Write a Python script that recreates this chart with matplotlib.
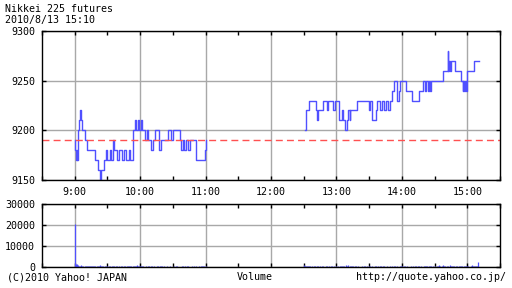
import numpy as np
import matplotlib.pyplot as plt
from matplotlib.ticker import MultipleLocator, FixedLocator

# price change points, minutes after 9:00 (step series)
am_min = [0.0, 0.6, 1.2, 1.8, 2.4, 3.0, 4.0, 4.8, 5.8, 6.8, 9.6, 11.7, 18.8, 21.0, 23.0,
          24.0, 26.9, 28.5, 29.3, 32.0, 33.0, 35.2, 36.1, 39.2, 40.7, 43.8, 45.4, 46.9,
          50.0, 51.0, 53.5, 55.6, 56.6, 57.7, 59.2, 60.7, 62.0, 64.4, 66.5, 67.5, 69.8,
          71.4, 73.9, 77.6, 79.1, 85.3, 88.4, 89.9, 96.1, 97.6, 99.0, 100.5, 102.0,
          103.5, 105.4, 111.6, 119.3, 120.0, 120.5]
am_px = [9190, 9180, 9170, 9180, 9170, 9200, 9210, 9220, 9210, 9200, 9190, 9180, 9170, 9160, 9150,
         9160, 9170, 9180, 9170, 9180, 9170, 9190, 9180, 9170, 9180, 9170, 9180, 9170,
         9180, 9170, 9200, 9210, 9200, 9210, 9200, 9210, 9200, 9190, 9200, 9190, 9180,
         9190, 9200, 9180, 9190, 9200, 9190, 9200, 9190, 9180, 9190, 9180, 9190,
         9180, 9190, 9170, 9180, 9190, 9190]

# afternoon, minutes after 13:00
pm_min = [-28.6, -28.0, -25.3, -18.6, -17.5, -16.5, -12.2, -8.5, -7.5, -3.0, -1.5, 2.1, 5.2,
          6.2, 8.2, 9.5, 10.7, 12.0, 12.8, 18.9, 29.6, 31.1, 32.6, 36.6, 37.5, 39.6, 41.8,
          43.9, 45.7, 46.9, 49.4, 50.9, 53.1, 55.5, 57.6, 58.5, 63.7, 69.2, 73.2, 75.6,
          79.3, 80.8, 82.3, 83.8, 85.0, 85.6, 86.9, 97.6, 102.1, 102.7, 103.2, 104.0,
          105.2, 108.3, 114.4, 115.9, 116.5, 117.2, 118.0, 118.8, 119.6, 126.0, 130.6]
pm_px = [9200, 9220, 9230, 9220, 9210, 9220, 9230, 9220, 9230, 9220, 9230, 9210, 9220,
         9210, 9200, 9210, 9220, 9210, 9220, 9230, 9220, 9230, 9210, 9220, 9230, 9220, 9230,
         9220, 9230, 9220, 9230, 9240, 9250, 9230, 9240, 9250, 9240, 9230, 9230, 9240,
         9250, 9240, 9250, 9240, 9250, 9240, 9250, 9260, 9280, 9260, 9270, 9260,
         9270, 9260, 9250, 9240, 9250, 9240, 9250, 9240, 9260, 9270, 9270]

prev_close = 9190

# volume per minute, 9:00-11:00 and 12:30-15:10
am_vol = [20500, 1400, 1200, 900, 700, 500, 800, 600, 400, 500, 300, 600, 400, 700, 300, 500, 400, 300, 600, 400,
          500, 300, 400, 800, 600, 400, 300, 200, 500, 400, 300, 600, 300, 200, 400, 500, 300, 200, 300, 400,
          200, 300, 500, 300, 200, 400, 300, 200, 300, 500, 400, 300, 600, 700, 500, 400, 300, 800, 500, 400,
          600, 300, 400, 300, 200, 300, 200, 400, 300, 200, 300, 500, 200, 300, 200, 300, 400, 200, 300, 500,
          300, 200, 300, 200, 100, 300, 200, 300, 200, 100, 200, 300, 200, 400, 300, 200, 100, 200, 600, 300,
          200, 300, 200, 400, 300, 200, 100, 200, 300, 500, 200, 300, 200, 100, 300, 200, 300, 400, 500, 300, 700]
pm_vol = [900, 700, 500, 300, 400, 600, 300, 200, 400, 300, 500, 200, 300, 400, 200, 300, 200, 400, 300, 200,
          300, 500, 200, 300, 200, 400, 300, 200, 300, 200, 400, 300, 200, 500, 300, 400, 600, 300, 200, 800,
          600, 900, 500, 300, 400, 300, 200, 400, 300, 200, 300, 200, 100, 300, 200, 400, 300, 200, 300, 200,
          300, 400, 200, 300, 200, 500, 300, 200, 300, 200, 400, 300, 200, 300, 500, 200, 300, 200, 100, 300,
          200, 300, 200, 400, 300, 200, 300, 200, 300, 500, 300, 200, 300, 400, 200, 300, 200, 100, 300, 200,
          300, 200, 400, 300, 200, 300, 500, 200, 300, 200, 400, 300, 600, 300, 200, 300, 400, 300, 200, 500,
          300, 200, 400, 300, 800, 300, 200, 500, 900, 400, 300, 600, 300, 200, 800, 400, 300, 500, 300, 200,
          700, 300, 400, 300, 600, 300, 200, 500, 400, 300, 600, 300, 200, 400, 800, 600, 300, 400, 700, 300,
          2500]

hour_labels = ['9:00', '10:00', '11:00', '12:00', '13:00', '14:00', '15:00']

BLUE = '#5050ff'
GRID = '#a8a8a8'
FONT = 'DejaVu Sans Mono'
FS = 7.2

plt.rcParams['font.family'] = FONT

fig = plt.figure(figsize=(5.12, 2.88), dpi=100)
ax = fig.add_axes([42/512, 1-180/288, 458/512, 149/288])
axv = fig.add_axes([42/512, 1-267/288, 458/512, 63/288])

am_x = 9 + np.array(am_min) / 60
pm_x = 13 + np.array(pm_min) / 60
ax.plot(am_x, am_px, drawstyle='steps-post', color=BLUE, lw=1.0)
ax.plot(pm_x, pm_px, drawstyle='steps-post', color=BLUE, lw=1.0)
ax.axhline(prev_close, color='#ff5050', lw=1.0, ls=(0, (5, 3)))

vx_am = 9 + np.arange(len(am_vol)) / 60
vx_pm = 12.5 + np.arange(len(pm_vol)) / 60
axv.vlines(vx_am, 0, am_vol, color=BLUE, lw=0.9)
axv.vlines(vx_pm, 0, pm_vol, color=BLUE, lw=0.9)

for a in (ax, axv):
    a.set_xlim(8.5, 15.5)
    a.xaxis.set_major_locator(FixedLocator(range(9, 16)))
    a.xaxis.set_minor_locator(FixedLocator(np.arange(8.5, 15.6, 1.0)))
    a.grid(True, which='major', color=GRID, lw=1.0)
    a.set_axisbelow(True)
    a.tick_params(which='both', direction='in', top=True, right=True, length=3,
                  width=1, labelsize=FS, pad=5)
    for s in a.spines.values():
        s.set_linewidth(1.0)

ax.set_ylim(9150, 9300)
ax.yaxis.set_major_locator(MultipleLocator(50))
ax.set_xticklabels(hour_labels)

axv.set_ylim(0, 30000)
axv.yaxis.set_major_locator(MultipleLocator(10000))
axv.set_xticklabels([])
axv.tick_params(which='both', labelbottom=False)

fig.text(5/512, 1-9.5/288, 'Nikkei 225 futures', fontsize=FS, va='center', ha='left')
fig.text(5/512, 1-19.5/288, '2010/8/13 15:10', fontsize=FS, va='center', ha='left')
fig.text(7/512, 1-277.5/288, '(C)2010 Yahoo! JAPAN', fontsize=FS, va='center', ha='left')
fig.text(255/512, 1-277.5/288, 'Volume', fontsize=FS, va='center', ha='center')
fig.text(506/512, 1-277.5/288, 'http://quote.yahoo.co.jp/', fontsize=FS, va='center', ha='right')

fig.savefig('out.png', dpi=100)
